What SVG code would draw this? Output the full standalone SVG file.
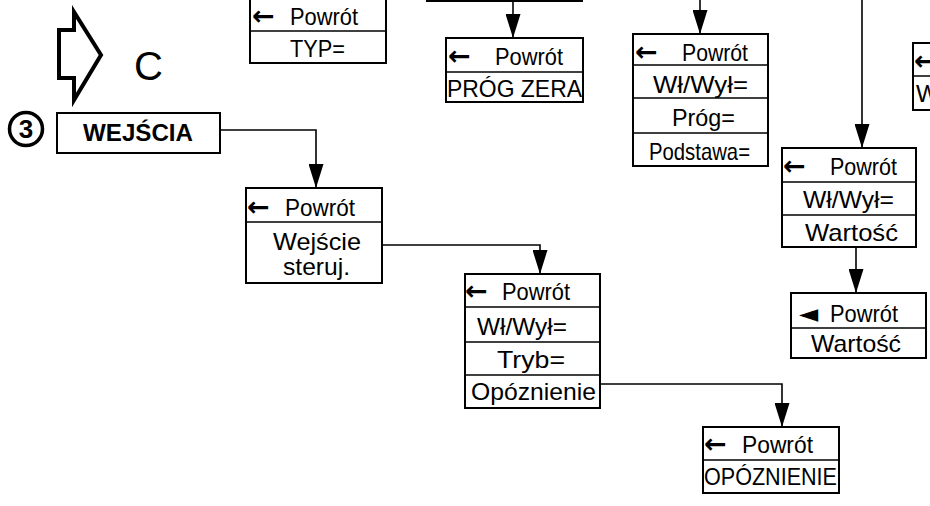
<svg xmlns="http://www.w3.org/2000/svg" width="930" height="506" viewBox="0 0 930 506">
<style>
.box{fill:#fff;stroke:#000;stroke-width:2}
.div{stroke:#000;stroke-width:1.5}
.t{font-family:"Liberation Sans",Arial,sans-serif;font-size:24px;fill:#000}
.c{text-anchor:middle}
.ar{font-family:"DejaVu Sans",sans-serif;font-weight:bold;font-size:27px}
.con{fill:none;stroke:#000;stroke-width:1.6}
</style>
<defs>
<marker id="ah" markerUnits="userSpaceOnUse" markerWidth="24" markerHeight="15" refX="24" refY="7.5" orient="auto">
<path d="M0,0 L24,7.5 L0,15 z" fill="#000"/>
</marker>
</defs>
<rect width="930" height="506" fill="#fff"/>

<g id="connectors">
<path class="con" d="M513,0 V38" marker-end="url(#ah)"/>
<path class="con" d="M700,0 V34" marker-end="url(#ah)"/>
<path class="con" d="M862,0 V148" marker-end="url(#ah)"/>
<path class="con" d="M856,247 V293" marker-end="url(#ah)"/>
<path class="con" d="M220,130 H316 V188" marker-end="url(#ah)"/>
<path class="con" d="M382,245 H540 V274" marker-end="url(#ah)"/>
<path class="con" d="M600,384 H782 V427" marker-end="url(#ah)"/>
</g>

<g id="header">
<polygon points="59,30 74,30 74,12 101,55 74,100 74,78 59,78" fill="#fff" stroke="#000" stroke-width="4" stroke-linejoin="miter"/>
<text class="t" x="134" y="80" style="font-size:40px">C</text>
<circle cx="26" cy="129" r="16.5" fill="none" stroke="#000" stroke-width="3.5"/>
<text class="t c" x="26" y="138" style="font-size:26px;font-weight:bold">3</text>
</g>

<g id="typ">
<rect class="box" x="250" y="-40" width="136" height="103"/>
<line class="div" x1="250" y1="31" x2="386" y2="31"/>
<text class="t" y="25"><tspan class="ar" x="252">← </tspan><tspan x="290" textLength="68" lengthAdjust="spacingAndGlyphs">Powrót</tspan></text>
<text class="t" x="290" y="57" textLength="55" lengthAdjust="spacingAndGlyphs">TYP=</text>
</g>

<g id="top-mid">
<rect class="box" x="427" y="-40" width="155" height="41"/>
</g>

<g id="prog-zera">
<rect class="box" x="446" y="38" width="137" height="64"/>
<line class="div" x1="446" y1="72" x2="583" y2="72"/>
<text class="t" y="65"><tspan class="ar" x="448">← </tspan><tspan x="495" textLength="68" lengthAdjust="spacingAndGlyphs">Powrót</tspan></text>
<text class="t" x="447" y="97" textLength="135" lengthAdjust="spacingAndGlyphs">PRÓG ZERA</text>
</g>

<g id="prog">
<rect class="box" x="633" y="34" width="135" height="132"/>
<line class="div" x1="633" y1="65" x2="768" y2="65"/>
<line class="div" x1="633" y1="98" x2="768" y2="98"/>
<line class="div" x1="633" y1="133" x2="768" y2="133"/>
<text class="t" y="61"><tspan class="ar" x="635">← </tspan><tspan x="682" textLength="66" lengthAdjust="spacingAndGlyphs">Powrót</tspan></text>
<text class="t" x="653" y="93" textLength="95" lengthAdjust="spacingAndGlyphs">Wł/Wył=</text>
<text class="t" x="672" y="126" textLength="63" lengthAdjust="spacingAndGlyphs">Próg=</text>
<text class="t" x="649" y="160" textLength="101" lengthAdjust="spacingAndGlyphs">Podstawa=</text>
</g>

<g id="right-partial">
<rect class="box" x="913" y="43" width="40" height="67"/>
<line class="div" x1="913" y1="76" x2="930" y2="76"/>
<text class="t" y="70"><tspan class="ar" x="914">←</tspan></text>
<text class="t" x="916" y="102">W</text>
</g>

<g id="wartosc1">
<rect class="box" x="782" y="148" width="134" height="99"/>
<line class="div" x1="782" y1="182" x2="916" y2="182"/>
<line class="div" x1="782" y1="215" x2="916" y2="215"/>
<text class="t" y="175"><tspan class="ar" x="783">← </tspan><tspan x="830" textLength="67" lengthAdjust="spacingAndGlyphs">Powrót</tspan></text>
<text class="t" x="803" y="208" textLength="91" lengthAdjust="spacingAndGlyphs">Wł/Wył=</text>
<text class="t" x="805" y="241" textLength="93" lengthAdjust="spacingAndGlyphs">Wartość</text>
</g>

<g id="wartosc2">
<rect class="box" x="791" y="293" width="135" height="65"/>
<line class="div" x1="791" y1="328" x2="926" y2="328"/>
<text class="t" y="322"><tspan x="799" style="font-family:'DejaVu Sans',sans-serif;font-size:25px">◄ </tspan><tspan x="830" textLength="68" lengthAdjust="spacingAndGlyphs">Powrót</tspan></text>
<text class="t" x="811" y="352" textLength="90" lengthAdjust="spacingAndGlyphs">Wartość</text>
</g>

<g id="wejscia">
<rect class="box" x="57" y="113" width="163" height="40"/>
<text class="t" x="83" y="141" style="font-weight:bold;font-size:23px" textLength="110" lengthAdjust="spacingAndGlyphs">WEJŚCIA</text>
</g>

<g id="wejscie-steruj">
<rect class="box" x="246" y="188" width="136" height="95"/>
<line class="div" x1="246" y1="222" x2="382" y2="222"/>
<text class="t" y="216"><tspan class="ar" x="247">← </tspan><tspan x="285" textLength="70" lengthAdjust="spacingAndGlyphs">Powrót</tspan></text>
<text class="t" x="273" y="250" textLength="88" lengthAdjust="spacingAndGlyphs">Wejście</text>
<text class="t" x="283" y="275" textLength="67" lengthAdjust="spacingAndGlyphs">steruj.</text>
</g>

<g id="tryb">
<rect class="box" x="465" y="274" width="135" height="134"/>
<line class="div" x1="465" y1="307" x2="600" y2="307"/>
<line class="div" x1="465" y1="342" x2="600" y2="342"/>
<line class="div" x1="465" y1="375" x2="600" y2="375"/>
<text class="t" y="300"><tspan class="ar" x="465">← </tspan><tspan x="502" textLength="68" lengthAdjust="spacingAndGlyphs">Powrót</tspan></text>
<text class="t" x="477" y="335" textLength="90" lengthAdjust="spacingAndGlyphs">Wł/Wył=</text>
<text class="t" x="497" y="368" textLength="68" lengthAdjust="spacingAndGlyphs">Tryb=</text>
<text class="t" x="471" y="400" textLength="125" lengthAdjust="spacingAndGlyphs">Opóznienie</text>
</g>

<g id="opoznienie">
<rect class="box" x="703" y="427" width="136" height="66"/>
<line class="div" x1="703" y1="460" x2="839" y2="460"/>
<text class="t" y="453"><tspan class="ar" x="704">← </tspan><tspan x="742" textLength="71" lengthAdjust="spacingAndGlyphs">Powrót</tspan></text>
<text class="t" x="704" y="485" textLength="133" lengthAdjust="spacingAndGlyphs">OPÓZNIENIE</text>
</g>
</svg>
